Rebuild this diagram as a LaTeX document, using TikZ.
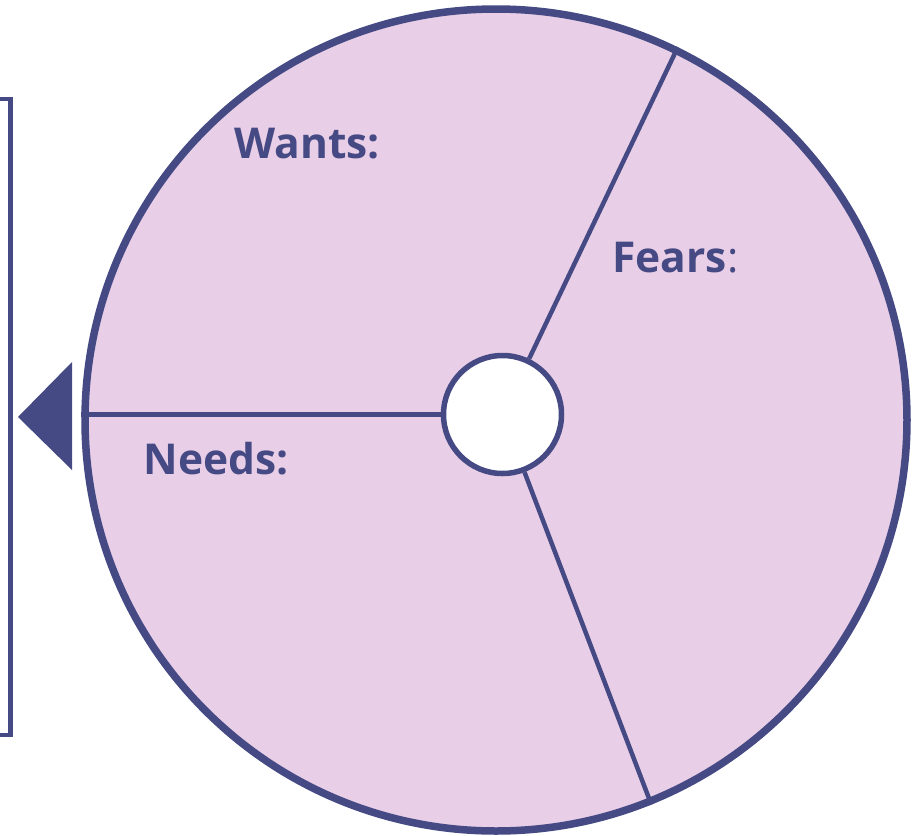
\documentclass[tikz,border=0pt]{standalone}
\usepackage{fontspec}
\setmainfont{Open Sans}
\definecolor{my navy}{HTML}{464A84}
\definecolor{my lilac}{HTML}{E8CEE6}

\begin{document}
\begin{tikzpicture}[x=1pt, y=-1pt,
    label text/.style={anchor=base west, text=my navy, font=\bfseries\fontsize{42.5}{46}\selectfont}]
            \useasboundingbox (0,0) rectangle (922,836);
            \node [circle, draw=my navy, line width=7.5pt, fill=my lilac, minimum size=822pt, inner sep=0pt] (wheel) at (496,420) {};
            \node [circle, draw=my navy, line width=5.5pt, fill=white, minimum size=118pt, inner sep=0pt] (hub) at (502.5,414.5) {};
            \draw [my navy, line width=4.5pt] (hub) -- (wheel.64);
            \draw [my navy, line width=4.5pt] (hub) -- (wheel.-68.5);
            \draw [my navy, line width=4.5pt] (hub) -- (hub -| wheel.west);
            \node [label text] (wants) at (231,158) {Wants:};
            \node [label text] (fears) at (609,272) {Fears\mdseries:};
            \node [label text] (needs) at (140,474) {Needs:};
            \fill [my navy] (18,417) -- (72,362) -- (72,470) -- cycle;
            \draw [my navy, line width=4.5pt] (0,99) -- (10.5,99) -- (10.5,735) -- (0,735);
        \end{tikzpicture}
\end{document}
